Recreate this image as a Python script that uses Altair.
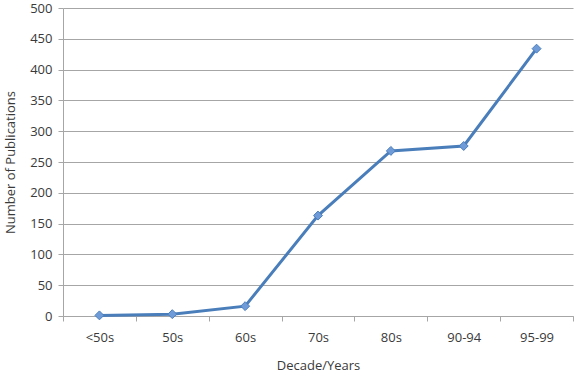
import altair as alt
import pandas as pd

categories = ["<50s", "50s", "60s", "70s", "80s", "90-94", "95-99"]
publications = [1, 3, 16, 163, 268, 276, 434]
y_ticks = [0, 50, 100, 150, 200, 250, 300, 350, 400, 450, 500]

df = pd.DataFrame({"decade": categories, "count": publications})

FONT = "Open Sans"
GREY = "#A6A6A6"
TXT = "#3A3A3A"

x = alt.X("decade:N", sort=categories, title="Decade/Years",
          scale=alt.Scale(paddingInner=0, paddingOuter=0),
          axis=alt.Axis(labelAngle=0, tickBand="extent", domainColor=GREY, tickColor=GREY,
                        tickSize=5, labelPadding=10, titlePadding=15, grid=False,
                        labelFont=FONT, titleFont=FONT, labelFontSize=13, titleFontSize=13,
                        labelColor=TXT, titleColor=TXT, titleFontWeight="normal"))
y = alt.Y("count:Q", title="Number of Publications",
          scale=alt.Scale(domain=[0, 500], nice=False),
          axis=alt.Axis(values=y_ticks, domainColor=GREY, tickColor=GREY, tickSize=5,
                        gridColor=GREY, gridWidth=1, labelPadding=6, titlePadding=12,
                        labelFont=FONT, titleFont=FONT, labelFontSize=13, titleFontSize=13,
                        labelColor=TXT, titleColor=TXT, titleFontWeight="normal"))

line = alt.Chart(df).mark_line(color="#4A7EBB", strokeWidth=3).encode(x=x, y=y)
pts = alt.Chart(df).mark_point(shape="diamond", filled=True, size=80,
                               color="#6F9BD8", stroke="#4A7EBB", strokeWidth=1,
                               opacity=1).encode(x=x, y=y)

chart = (line + pts).properties(
    width=510, height=308,
    autosize=alt.AutoSizeParams(type="none"),
    padding={"left": 63, "top": 8, "right": 7, "bottom": 58},
    background="white",
).configure_view(stroke=None)

chart.save("out.html", embed_options={"renderer": "svg", "actions": False})
